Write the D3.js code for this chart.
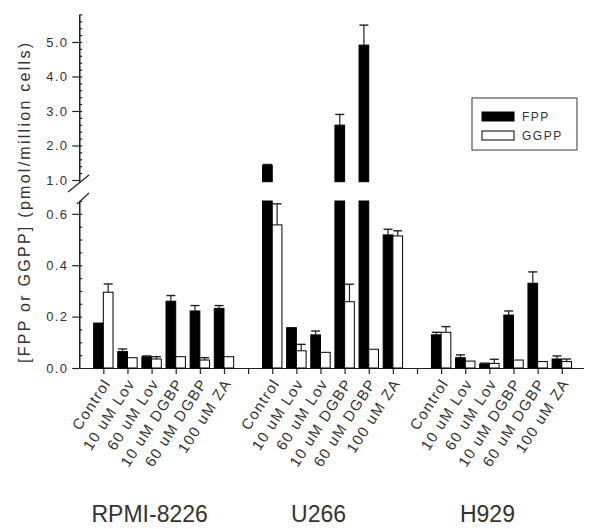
<!DOCTYPE html>
<html>
<head>
<meta charset="utf-8">
<script src="https://cdn.jsdelivr.net/npm/d3@7"></script>
<style>
  body { margin: 0; background: #fff; }
  text { font-family: "Liberation Sans", Arial, sans-serif; fill: #333; }
</style>
</head>
<body>
<svg id="chart" width="600" height="529"></svg>
<script>
var groups = ["RPMI-8226", "U266", "H929"];
var treatments = ["Control", "10 uM Lov", "60 uM Lov", "10 uM DGBP", "60 uM DGBP", "100 uM ZA"];
// one row per cell line, one value per treatment
var fpp = [
    [0.175, 0.064, 0.044, 0.260, 0.222, 0.232],
    [1.43, 0.157, 0.129, 2.59, 4.91, 0.518],
    [0.129, 0.040, 0.016, 0.206, 0.330, 0.035]
];
var fppErr = [
    [0, 0.010, 0.003, 0.022, 0.021, 0.011],
    [0.02, 0, 0.015, 0.31, 0.58, 0.022],
    [0.010, 0.011, 0.003, 0.016, 0.044, 0.012]
];
var ggpp = [
    [0.295, 0.040, 0.035, 0.044, 0.031, 0.044],
    [0.557, 0.067, 0.061, 0.258, 0.073, 0.514],
    [0.139, 0.027, 0.018, 0.031, 0.025, 0.025]
];
var ggppErr = [
    [0.032, 0, 0.009, 0, 0.009, 0],
    [0.082, 0.025, 0, 0.068, 0, 0.020],
    [0.022, 0, 0.016, 0, 0, 0.010]
];
var lowerTicks = [0, 0.2, 0.4, 0.6];
var upperTicks = [1, 2, 3, 4, 5];
var seriesNames = ["FPP", "GGPP"];

var svg = d3.select("#chart");

// broken y axis: two linear scales
var lowMax = 0.65, upMin = 0.95, upMax = 5.8;
var yL = d3.scaleLinear().domain([0, lowMax]).range([368, 201]);
var yU = d3.scaleLinear().domain([upMin, upMax]).range([181.7, 14.4]);
var x = d3.scaleLinear().domain([-1, 19.9]).range([79.2, 583.5]);
var barW = 9.7;

function slot(g, t) { return g * 7 + t; }

// axes
var axisL = svg.append("g").attr("transform", "translate(" + x(-1) + ",0)");
function styleAxis(sel) {
    sel.selectAll("path, line").attr("stroke", "#222").attr("stroke-width", 1.2);
    sel.selectAll("text").style("font-size", "13px").style("letter-spacing", "1.3px").attr("fill", "#444");
}
axisL.append("g")
    .call(d3.axisLeft(yL).tickValues(lowerTicks).tickFormat(d3.format(".1f")).tickSize(7).tickSizeOuter(0))
    .call(styleAxis);
axisL.append("g")
    .call(d3.axisRight(yL).tickValues(d3.range(0.05, 0.651, 0.05)).tickFormat("").tickSize(3).tickSizeOuter(0))
    .call(styleAxis);
axisL.append("g")
    .call(d3.axisLeft(yU).tickValues(upperTicks).tickFormat(d3.format(".1f")).tickSize(7).tickSizeOuter(0))
    .call(styleAxis);
axisL.append("g")
    .call(d3.axisRight(yU).tickValues(d3.range(1.2, 5.81, 0.2)).tickFormat("").tickSize(3).tickSizeOuter(0))
    .call(styleAxis);
axisL.selectAll("text").attr("x", -11);

// break marks
svg.append("line").attr("x1", 68).attr("y1", 192).attr("x2", 89).attr("y2", 175)
    .attr("stroke", "#222").attr("stroke-width", 1.2);
svg.append("line").attr("x1", 77).attr("y1", 204).attr("x2", 89).attr("y2", 193)
    .attr("stroke", "#222").attr("stroke-width", 1.2);

svg.append("g").attr("transform", "translate(0," + yL(0) + ")")
    .call(d3.axisBottom(x).tickValues(d3.range(0, 20)).tickFormat("").tickSize(6).tickSizeOuter(0))
    .call(styleAxis);

// bars
var bars = svg.append("g");
function drawBar(cx, v, err, fill) {
    var x0 = cx;
    if (v <= lowMax) {
        bars.append("rect").attr("x", x0).attr("y", yL(v)).attr("width", barW)
            .attr("height", yL(0) - yL(v)).attr("fill", fill).attr("stroke", "#000").attr("stroke-width", 1);
    } else {
        bars.append("rect").attr("x", x0).attr("y", yL(lowMax)).attr("width", barW)
            .attr("height", yL(0) - yL(lowMax)).attr("fill", fill).attr("stroke", "#000").attr("stroke-width", 1);
        bars.append("rect").attr("x", x0).attr("y", yU(v)).attr("width", barW)
            .attr("height", yU(upMin) - yU(v)).attr("fill", fill).attr("stroke", "#000").attr("stroke-width", 1);
    }
    if (err > 0) {
        var sc = v > lowMax ? yU : yL;
        var mid = x0 + barW / 2;
        bars.append("line").attr("x1", mid).attr("x2", mid).attr("y1", sc(v)).attr("y2", sc(v + err))
            .attr("stroke", "#222").attr("stroke-width", 1.2);
        bars.append("line").attr("x1", mid - 4.5).attr("x2", mid + 4.5).attr("y1", sc(v + err)).attr("y2", sc(v + err))
            .attr("stroke", "#222").attr("stroke-width", 1.4);
    }
}
groups.forEach(function(g, gi) {
    treatments.forEach(function(t, ti) {
        var cx = x(slot(gi, ti));
        drawBar(cx - barW, fpp[gi][ti], fppErr[gi][ti], "#000");
        drawBar(cx, ggpp[gi][ti], ggppErr[gi][ti], "#fff");
    });
});

// category labels
var labels = svg.append("g");
groups.forEach(function(g, gi) {
    treatments.forEach(function(t, ti) {
        var cx = x(slot(gi, ti));
        labels.append("text")
            .attr("transform", "translate(" + (cx + 8) + "," + 383 + ") rotate(-57)")
            .attr("text-anchor", "end")
            .style("font-size", "15px").style("letter-spacing", "1.3px")
            .text(t);
    });
    var center = (x(slot(gi, 0)) + x(slot(gi, 5))) / 2;
    labels.append("text")
        .attr("x", center - 14).attr("y", 522)
        .attr("text-anchor", "middle")
        .style("font-size", "23px").attr("fill", "#555")
        .text(g);
});

// y axis title
svg.append("text")
    .attr("transform", "translate(30,203) rotate(-90)")
    .attr("text-anchor", "middle")
    .style("font-size", "16px").attr("fill", "#444")
    .attr("textLength", 320).attr("lengthAdjust", "spacing")
    .text("[FPP or GGPP] (pmol/million cells)");

// legend
var legend = svg.append("g");
legend.append("rect").attr("x", 472).attr("y", 98).attr("width", 105).attr("height", 52)
    .attr("fill", "#fff").attr("stroke", "#555").attr("stroke-width", 1.2);
seriesNames.forEach(function(s, i) {
    legend.append("rect").attr("x", 482).attr("y", 112 + i * 19).attr("width", 32).attr("height", 9)
        .attr("fill", i == 0 ? "#000" : "#fff").attr("stroke", "#000").attr("stroke-width", 1);
    legend.append("text").attr("x", 522).attr("y", 121 + i * 19)
        .style("font-size", "12px").style("letter-spacing", "1.5px").attr("fill", "#444")
        .text(s);
});
</script>
</body>
</html>
